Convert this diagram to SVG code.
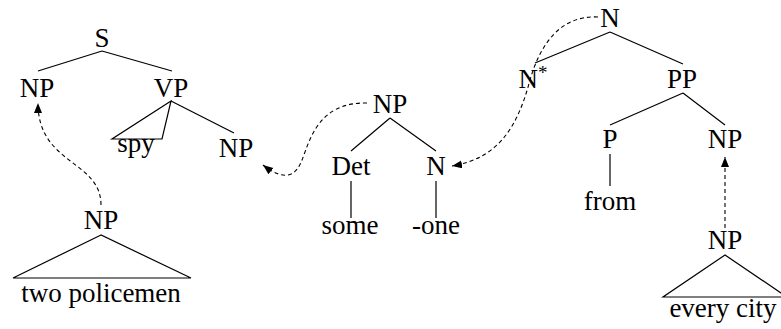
<svg xmlns="http://www.w3.org/2000/svg" width="781" height="329" viewBox="0 0 781 329">
<defs>
<marker id="ah" markerUnits="userSpaceOnUse" markerWidth="12" markerHeight="10" refX="10" refY="4" orient="auto">
<path d="M0,0 L10,4 L0,8 z" fill="#000"/>
</marker>
</defs>
<rect width="781" height="329" fill="#fff"/>
<g id="edges" fill="none" stroke="#000">
<g stroke-width="1.2">
<path d="M102,51 L38,71 M102,51 L172,71"/>
<path d="M171,101 L112,139 L162,139 Z"/>
<path d="M171,101 L234,133"/>
<path d="M101,235 L13,278 L191,278 Z"/>
<path d="M390,118 L351,151 M390,118 L436,151"/>
<path d="M351,181 L351,218 M436,181 L436,218"/>
<path d="M610,32 L535,63 M610,32 L683,64"/>
<path d="M683,93 L610,125 M683,93 L725,125"/>
<path d="M610,154 L610,186"/>
<path d="M725,255 L663,297 L787,297 Z"/>
</g>
<g stroke-width="1.1" stroke-dasharray="4,3" marker-end="url(#ah)">
<path d="M101,205 C101,160 38,165 38,103"/>
<path d="M367,103 C318,102 310,140 302,160 C296,176 285,182 263,165"/>
<path d="M598,17 C560,15 540,45 530,80 C518,125 500,158 452,166"/>
<path d="M725,228 L725,157"/>
</g>
</g>
<g id="S"><text x="102" y="47" font-family="Liberation Serif" font-size="27" text-anchor="middle">S</text></g>
<g id="NP1"><text x="37" y="97" font-family="Liberation Serif" font-size="27" text-anchor="middle">NP</text></g>
<g id="VP"><text x="171" y="97" font-family="Liberation Serif" font-size="27" text-anchor="middle">VP</text></g>
<g id="spy"><text x="136" y="152" font-family="Liberation Serif" font-size="27" text-anchor="middle">spy</text></g>
<g id="NP2"><text x="236" y="157" font-family="Liberation Serif" font-size="27" text-anchor="middle">NP</text></g>
<g id="NP3"><text x="101" y="229" font-family="Liberation Serif" font-size="27" text-anchor="middle">NP</text></g>
<g id="twopolicemen"><text x="101" y="302" font-family="Liberation Serif" font-size="27" text-anchor="middle">two policemen</text></g>
<g id="NP4"><text x="390" y="113" font-family="Liberation Serif" font-size="27" text-anchor="middle">NP</text></g>
<g id="Det"><text x="351" y="175" font-family="Liberation Serif" font-size="27" text-anchor="middle">Det</text></g>
<g id="N1"><text x="436" y="175" font-family="Liberation Serif" font-size="27" text-anchor="middle">N</text></g>
<g id="some"><text x="350" y="234" font-family="Liberation Serif" font-size="27" text-anchor="middle">some</text></g>
<g id="one"><text x="436" y="234" font-family="Liberation Serif" font-size="27" text-anchor="middle">-one</text></g>
<g id="N2"><text x="610" y="27" font-family="Liberation Serif" font-size="27" text-anchor="middle">N</text></g>
<g id="Nstar"><text x="533" y="88" font-family="Liberation Serif" font-size="27" text-anchor="middle">N<tspan font-size="19" dy="-9">*</tspan></text></g>
<g id="PP"><text x="682" y="88" font-family="Liberation Serif" font-size="27" text-anchor="middle">PP</text></g>
<g id="P"><text x="610" y="148" font-family="Liberation Serif" font-size="27" text-anchor="middle">P</text></g>
<g id="NP5"><text x="725" y="148" font-family="Liberation Serif" font-size="27" text-anchor="middle">NP</text></g>
<g id="from"><text x="610" y="210" font-family="Liberation Serif" font-size="27" text-anchor="middle">from</text></g>
<g id="NP6"><text x="725" y="249" font-family="Liberation Serif" font-size="27" text-anchor="middle">NP</text></g>
<g id="everycity"><text x="723" y="317" font-family="Liberation Serif" font-size="27" text-anchor="middle">every city</text></g>
</svg>
